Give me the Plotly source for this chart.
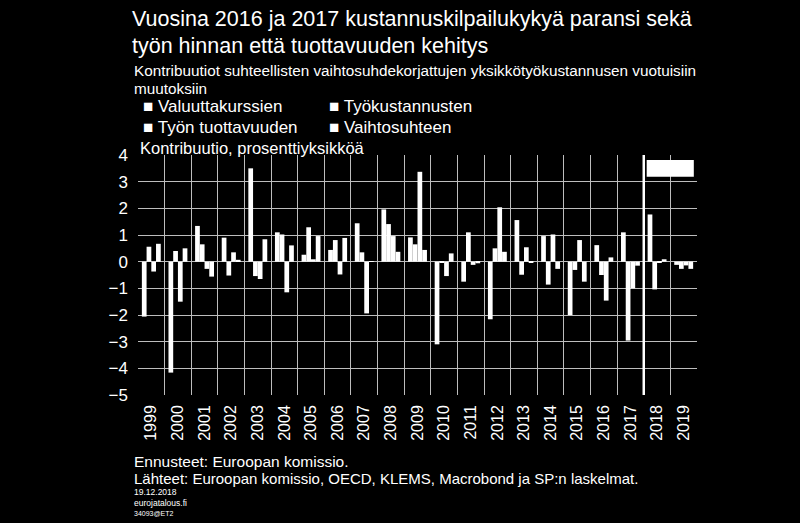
import plotly.graph_objects as go

years = list(range(1999, 2020))
series_names = ["Valuuttakurssien", "Työkustannusten", "Työn tuottavuuden", "Vaihtosuhteen"]

valuuttakurssien = [-2.06, -4.16, 1.34, 0.90, 3.50, 1.10, 0.26, 0.44, 1.44, 1.96, 0.91, -3.10,
                    -0.75, -2.16, 1.56, 0.96, -2.00, 0.62, 1.10, 1.77, -0.12]
tyokustannusten = [0.56, 0.40, 0.65, -0.52, -0.54, 1.02, 1.29, 0.81, 0.35, 1.41, 0.65, -0.03,
                   1.10, 0.50, -0.49, -0.86, -0.31, -0.50, -2.96, -1.04, -0.27]
tyon_tuottavuuden = [-0.37, -1.50, -0.27, 0.35, -0.65, -1.15, 0.09, -0.48, -1.94, 0.96, 3.37, -0.54,
                     -0.12, 2.04, 0.54, 1.02, 0.81, -1.46, -1.00, -0.05, -0.14]
vaihtosuhteen = [0.67, 0.50, -0.56, 0.07, 0.84, 0.61, 0.96, 0.89, 0.02, 0.37, 0.44, 0.31,
                 -0.06, 0.37, -0.02, -0.27, -0.75, 0.16, -0.15, 0.09, -0.27]

y_ticks = [4, 3, 2, 1, 0, -1, -2, -3, -4, -5]

NARROW = "Liberation Sans Narrow, Arial Narrow, Liberation Sans, Arial, sans-serif"
ARIAL = "Liberation Sans, Arial, sans-serif"

fig = go.Figure()
for name, vals in zip(series_names, [valuuttakurssien, tyokustannusten, tyon_tuottavuuden, vaihtosuhteen]):
    fig.add_trace(go.Bar(x=years, y=vals, name=name,
                         marker=dict(color="white", line=dict(width=0))))

fig.update_layout(
    width=800, height=523,
    paper_bgcolor="black", plot_bgcolor="black",
    barmode="group", bargap=0.29, bargroupgap=0,
    showlegend=False,
    margin=dict(l=138, r=103, t=155, b=128),
    font=dict(family=ARIAL, color="white"),
)
fig.update_xaxes(
    range=[1998.5, 2019.5],
    tickvals=years, ticktext=[str(y) for y in years],
    tickangle=-90, tickfont=dict(size=16, family=ARIAL, color="white"),
    showgrid=False, zeroline=False, ticks="", ticklabelstandoff=6,
    minor=dict(tick0=1998.5, dtick=1, showgrid=True, gridcolor="#bdbdbd", gridwidth=1, ticks=""),
    showline=False,
)
fig.update_yaxes(
    range=[-5, 4], tickvals=y_ticks,
    tickfont=dict(size=17, family=ARIAL, color="white"),
    showgrid=True, gridcolor="#bdbdbd", gridwidth=1,
    zeroline=False, ticks="", ticklabelstandoff=9,
)

# forecast separator and box
fig.add_shape(type="line", xref="x", yref="y", x0=2017.5, x1=2017.5, y0=-5, y1=4,
              line=dict(color="white", width=2.5), layer="above")
fig.add_shape(type="rect", xref="x", yref="y", x0=2017.61, x1=2019.38, y0=3.18, y1=3.81,
              fillcolor="white", line=dict(width=0), layer="above")

L, R, T, B = 138, 697, 155, 395
def px(xp):
    return (xp - L) / (R - L)
def py(yp):
    return (B - yp) / (B - T)

def txt(x, y, s, size, family=NARROW):
    fig.add_annotation(xref="paper", yref="paper", x=px(x), y=py(y), text=s, showarrow=False,
                       xanchor="left", yanchor="middle", font=dict(size=size, family=family, color="white"),
                       align="left", borderpad=0)

txt(131, 19, "Vuosina 2016 ja 2017 kustannuskilpailukykyä paransi sekä", 21.5)
txt(131, 46, "työn hinnan että tuottavuuden kehitys", 21.5)
txt(133, 71, "Kontribuutiot suhteellisten vaihtosuhdekorjattujen yksikkötyökustannusen vuotuisiin", 15.3)
txt(133, 88, "muutoksiin", 15.3)
txt(142, 106, "■ " + series_names[0], 17)
txt(328, 106, "■ " + series_names[1], 17)
txt(142, 128, "■ " + series_names[2], 17)
txt(328, 128, "■ " + series_names[3], 17)
txt(139, 148, "Kontribuutio, prosenttiyksikköä", 16.5)
txt(133, 461, "Ennusteet: Euroopan komissio.", 15.5)
txt(133, 478, "Lähteet: Euroopan komissio, OECD, KLEMS, Macrobond ja SP:n laskelmat.", 15.0)
txt(133, 492, "19.12.2018", 8.5)
txt(133, 503, "eurojatalous.fi", 8.5)
txt(133, 513, "34093@ET2", 7)

fig.write_html("out.html", config={"displayModeBar": False},
               post_script="document.body.style.margin='0px';")
